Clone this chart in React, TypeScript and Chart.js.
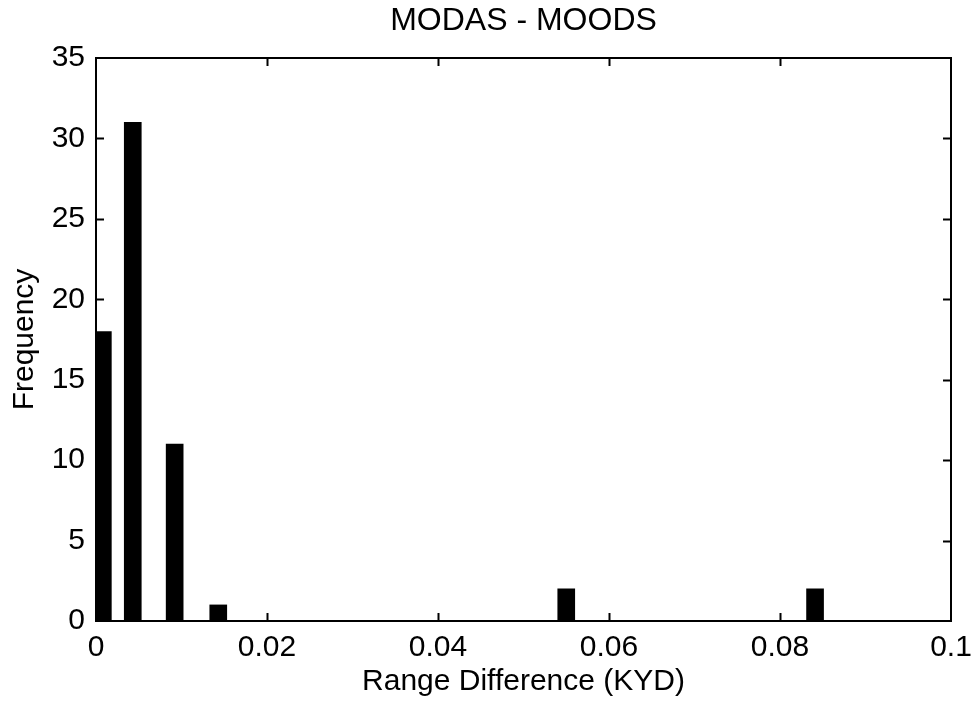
import React, { useEffect, useRef } from "react";
import { Chart, registerables } from "chart.js";

Chart.register(...registerables);

const chartTitle = "MODAS - MOODS";
const xAxisTitle = "Range Difference (KYD)";
const yAxisTitle = "Frequency";
const binCenters = [0.0008, 0.0043, 0.0092, 0.0143, 0.055, 0.0841];
const frequencies = [18, 31, 11, 1, 2, 2];
const xTicks = [0, 0.02, 0.04, 0.06, 0.08, 0.1];
const yTicks = [0, 5, 10, 15, 20, 25, 30, 35];

const FONT = "'Liberation Sans', Arial, sans-serif";

const boxPlugin = {
  id: "matlabBox",
  afterDatasetsDraw(chart: any) {
    const { ctx, chartArea: a, scales } = chart;
    const tl = 8;
    ctx.save();
    ctx.strokeStyle = "#000";
    ctx.lineWidth = 2;
    ctx.beginPath();
    for (const v of xTicks) {
      const px = Math.round(scales.x.getPixelForValue(v)) + 0.5;
      if (v === xTicks[0] || v === xTicks[xTicks.length - 1]) continue;
      ctx.moveTo(px, a.bottom);
      ctx.lineTo(px, a.bottom - tl);
      ctx.moveTo(px, a.top);
      ctx.lineTo(px, a.top + tl);
    }
    for (const v of yTicks) {
      const py = Math.round(scales.y.getPixelForValue(v)) + 0.5;
      if (v === yTicks[0] || v === yTicks[yTicks.length - 1]) continue;
      ctx.moveTo(a.left, py);
      ctx.lineTo(a.left + tl, py);
      ctx.moveTo(a.right, py);
      ctx.lineTo(a.right - tl, py);
    }
    ctx.stroke();
    ctx.strokeRect(a.left, a.top, a.right - a.left, a.bottom - a.top);
    ctx.restore();
  },
  afterDraw(chart: any) {
    const { ctx, chartArea: a } = chart;
    ctx.save();
    ctx.fillStyle = "#000";
    ctx.font = `32px ${FONT}`;
    ctx.textAlign = "center";
    ctx.textBaseline = "middle";
    ctx.fillText(chartTitle, (a.left + a.right) / 2, 21);
    ctx.restore();
  },
};

export default function App() {
  const ref = useRef<HTMLCanvasElement | null>(null);
  useEffect(() => {
    if (!ref.current) return;
    const chart = new Chart(ref.current, {
      type: "bar",
      data: {
        datasets: [
          {
            data: binCenters.map((x, i) => ({ x, y: frequencies[i] })),
            backgroundColor: "#000",
            borderWidth: 0,
            barThickness: 17,
          },
        ],
      },
      options: {
        responsive: false,
        animation: false,
        devicePixelRatio: 1,
        layout: { padding: { top: 58, right: 25, left: 0, bottom: 0 } },
        plugins: {
          legend: { display: false },
          title: { display: false },
          tooltip: { enabled: false },
        },
        scales: {
          x: {
            type: "linear",
            offset: false,
            min: 0,
            max: 0.1,
            afterFit: (s: any) => {
              s.height = 86;
              s.paddingRight = 0;
              s.paddingLeft = 0;
            },
            afterBuildTicks: (s: any) => {
              s.ticks = xTicks.map((v) => ({ value: v }));
            },
            grid: { display: false, offset: false, drawTicks: false },
            border: { display: false },
            ticks: {
              color: "#000",
              padding: 9,
              maxRotation: 0,
              autoSkip: false,
              font: { family: FONT, size: 30 },
              callback: (v: any) => String(Number(Number(v).toFixed(2))),
            },
            title: {
              display: true,
              text: xAxisTitle,
              color: "#000",
              font: { family: FONT, size: 30 },
              padding: { top: 0, bottom: 7 },
            },
          },
          y: {
            type: "linear",
            min: 0,
            max: 35,
            afterFit: (s: any) => {
              s.width = 96;
            },
            afterBuildTicks: (s: any) => {
              s.ticks = yTicks.map((v) => ({ value: v }));
            },
            grid: { display: false, drawTicks: false },
            border: { display: false },
            ticks: {
              color: "#000",
              padding: 11,
              font: { family: FONT, size: 30 },
            },
            title: {
              display: true,
              text: yAxisTitle,
              color: "#000",
              font: { family: FONT, size: 30 },
              padding: { top: 7, bottom: 0 },
            },
          },
        },
      },
      plugins: [boxPlugin],
    } as any);
    return () => chart.destroy();
  }, []);
  return (
    <div style={{ position: "absolute", left: 0, top: 0, width: 976, height: 707, background: "#fff" }}>
      <canvas ref={ref} width={976} height={707} style={{ width: 976, height: 707, display: "block" }} />
    </div>
  );
}
